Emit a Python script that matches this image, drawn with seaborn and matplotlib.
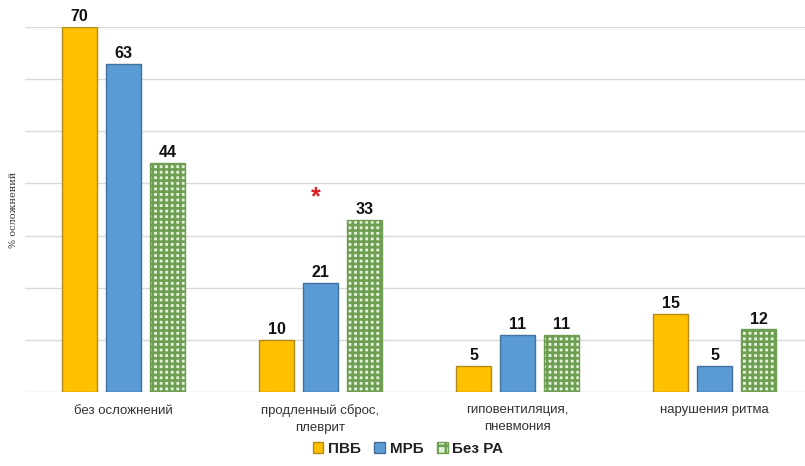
import matplotlib
matplotlib.use("Agg")
import matplotlib.pyplot as plt
import seaborn as sns
import pandas as pd
from matplotlib.patches import Patch

categories = ["без осложнений", "продленный сброс,\nплеврит",
              "гиповентиляция,\nпневмония", "нарушения ритма"]
groups = ["ПВБ", "МРБ", "Без РА"]
pvb = [70, 10, 5, 15]
mrb = [63, 21, 11, 5]
no_ra = [44, 33, 11, 12]

face = {"ПВБ": "#FFC000", "МРБ": "#5B9BD5", "Без РА": "#E4F1DA"}
edge = {"ПВБ": "#B08A1A", "МРБ": "#41719C", "Без РА": "#6E9E52"}

rows = []
for g, vals in zip(groups, [pvb, mrb, no_ra]):
    for c, v in zip(categories, vals):
        rows.append({"category": c, "group": g, "value": v})
df = pd.DataFrame(rows)

sns.set_theme(style="white")
plt.rcParams["font.family"] = ["Liberation Sans", "DejaVu Sans"]
plt.rcParams["hatch.linewidth"] = 1.9

fig = plt.figure(figsize=(8.05, 4.66), dpi=100)
ax = fig.add_axes([25 / 805, 74 / 466, 788 / 805, 365 / 466])

sns.barplot(data=df, x="category", y="value", hue="group",
            hue_order=groups, order=categories, width=0.67, gap=0.2,
            palette=[face[g] for g in groups], saturation=1,
            legend=False, ax=ax)

for g, cont in zip(groups, ax.containers):
    for bar in cont:
        bar.set_edgecolor(edge[g])
        bar.set_linewidth(1.0)
        if g == "Без РА":
            bar.set_facecolor(face[g])
            bar.set_hatch("+++")
    ax.bar_label(cont, fmt="%d", padding=2, fontsize=11.5,
                 fontweight="bold", color="#111111", clip_on=False)

# significance mark over the second group
ax.text(1 - 0.025, 37.3, "*", color="#E02020", fontsize=18,
        fontweight="bold", ha="center", va="center")

ax.set_ylim(0, 70)
ax.set_xlim(-0.5, 3.5)
ax.set_yticks(range(0, 71, 10))
ax.set_yticklabels([])
ax.tick_params(axis="y", length=0)
ax.grid(axis="y", color="#D9D9D9", linewidth=1.0)
ax.set_axisbelow(True)
for s in ax.spines.values():
    s.set_visible(False)

ax.set_xlabel("")
ax.set_ylabel("% осложнений", fontsize=7, family="DejaVu Serif",
              color="#333333", labelpad=2)
ax.yaxis.set_label_coords(-0.009, 0.5)
ax.tick_params(axis="x", length=0, pad=9, labelsize=9.5, labelcolor="#333333")
for lbl in ax.get_xticklabels():
    lbl.set_linespacing(1.5)

handles = [Patch(facecolor=face[g], edgecolor=edge[g],
                 hatch="++" if g == "Без РА" else None) for g in groups]
leg = fig.legend(handles, groups, loc="center", bbox_to_anchor=(408 / 805, 1 - 449 / 466),
                 ncol=3, frameon=False, handlelength=0.7, handleheight=0.7,
                 handletextpad=0.3, columnspacing=0.9, prop={"weight": "bold", "size": 11})
for t in leg.get_texts():
    t.set_color("#222222")

fig.savefig("out.png", dpi=100)
